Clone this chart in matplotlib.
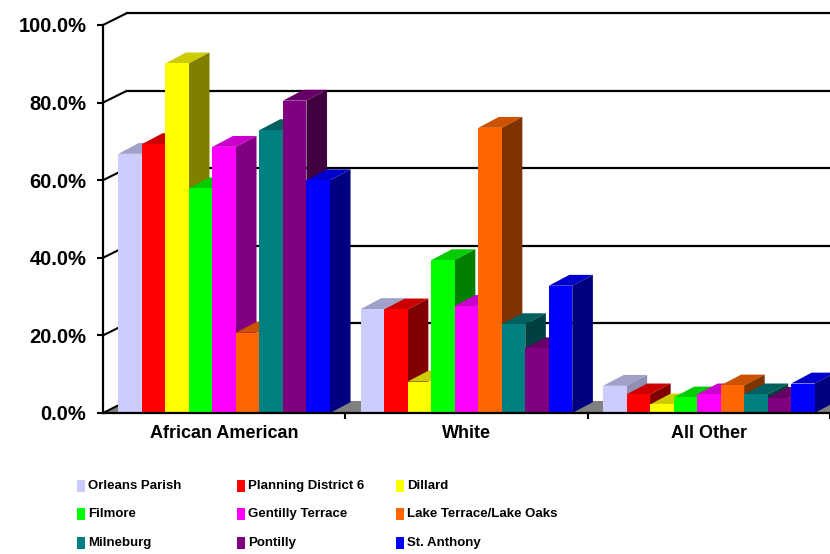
import matplotlib
matplotlib.use("Agg")
import matplotlib.pyplot as plt
from matplotlib.patches import Polygon, Rectangle
from matplotlib.ticker import FuncFormatter

plt.rcParams["font.family"] = ["Liberation Sans", "DejaVu Sans"]
plt.rcParams["font.weight"] = "bold"

# share of population by race, per area (percent)
categories = ["African American", "White", "All Other"]
orleans = [66.8, 26.8, 7.0]
planning_6 = [69.3, 26.7, 4.8]
dillard = [90.1, 8.1, 2.2]
filmore = [57.9, 39.4, 4.0]
gentilly = [68.6, 27.6, 4.8]
lake_terrace = [20.7, 73.5, 7.1]
milneburg = [72.9, 22.9, 4.8]
pontilly = [80.5, 16.7, 3.9]
st_anthony = [60.0, 32.8, 7.6]

series = [orleans, planning_6, dillard, filmore, gentilly,
          lake_terrace, milneburg, pontilly, st_anthony]
names = ["Orleans Parish", "Planning District 6", "Dillard", "Filmore",
         "Gentilly Terrace", "Lake Terrace/Lake Oaks", "Milneburg",
         "Pontilly", "St. Anthony"]
front_c = ["#CCCCFF", "#FF0000", "#FFFF00", "#00FF00", "#FF00FF",
           "#FF6600", "#008080", "#800080", "#0000FF"]
top_c = ["#A0A0C8", "#CC0000", "#CCCC00", "#00CC00", "#CC00CC",
         "#CC5200", "#006060", "#660066", "#0000CC"]
side_c = ["#9090B4", "#800000", "#808000", "#008000", "#800080",
          "#803300", "#004040", "#400040", "#000080"]

yticks = [0, 20, 40, 60, 80, 100]

bw = 0.097            # bar width in category units
bdx, bdy = 0.085, 2.8  # bar depth offset (x units, percent)
wdx, wdy = 0.10, 3.1   # wall depth offset

fig = plt.figure(figsize=(8.3, 5.54), dpi=100)
ax = fig.add_axes([103 / 830, 141 / 554, 727 / 830, 408 / 554])
ax.set_xlim(-0.5, 2.5)
ax.set_ylim(0, 408 / 3.88)

# floor and back wall
ax.add_patch(Polygon([(-0.5, 0), (2.5, 0), (2.5 + wdx, wdy), (-0.5 + wdx, wdy)],
                     closed=True, facecolor="#808080", edgecolor="none", zorder=1))
for t in yticks:
    ax.plot([-0.5, -0.5 + wdx], [t, t + wdy], color="black", lw=1.5, zorder=1,
            solid_capstyle="butt")
    if t > 0:
        ax.plot([-0.5 + wdx, 2.5], [t + wdy, t + wdy], color="black", lw=1.6, zorder=1)

# 3d-looking columns, drawn left to right so each front hides the previous side
for i, vals in enumerate(series):
    xs = [g + (i - 4) * bw for g in range(len(categories))]
    ax.bar(xs, vals, width=bw, color=front_c[i], edgecolor="none", zorder=11 + 2 * i)
    for x, v in zip(xs, vals):
        x0, x1 = x - bw / 2, x + bw / 2
        top = [(x0, v), (x1, v), (x1 + bdx, v + bdy), (x0 + bdx, v + bdy)]
        side = [(x1, 0), (x1 + bdx, bdy), (x1 + bdx, v + bdy), (x1, v)]
        ax.add_patch(Polygon(top, closed=True, facecolor=top_c[i],
                             edgecolor="none", zorder=10 + 2 * i))
        ax.add_patch(Polygon(side, closed=True, facecolor=side_c[i],
                             edgecolor="none", zorder=10 + 2 * i))

# axes styling
for s in ["top", "right"]:
    ax.spines[s].set_visible(False)
ax.spines["left"].set_bounds(0, 100)
ax.spines["left"].set_linewidth(1.6)
ax.spines["bottom"].set_linewidth(1.6)
ax.spines["bottom"].set_zorder(40)

ax.set_yticks(yticks)
ax.yaxis.set_major_formatter(FuncFormatter(lambda v, p: f"{v:.1f}%"))
ax.tick_params(axis="y", direction="out", length=4, width=1.5, pad=8, labelsize=14.5)

ax.set_xticks([0.5, 1.5, 2.5])
ax.set_xticklabels([])
ax.set_xticks(range(len(categories)), minor=True)
ax.set_xticklabels(categories, minor=True, fontsize=13)
ax.tick_params(axis="x", which="major", direction="out", length=4, width=1.5)
ax.tick_params(axis="x", which="minor", length=0, pad=9)

# legend, three per row
col_x = [77, 237, 396]
row_y = [486, 514, 543]
for i, name in enumerate(names):
    px, py = col_x[i % 3], row_y[i // 3]
    fig.add_artist(Rectangle((px / 830, 1 - (py + 6) / 554), 8 / 830, 12 / 554,
                             transform=fig.transFigure, facecolor=front_c[i],
                             edgecolor="none"))
    fig.text((px + 11) / 830, 1 - py / 554, name, fontsize=9.5, fontweight="bold",
             va="center", ha="left")

fig.savefig("out.png", dpi=100)
